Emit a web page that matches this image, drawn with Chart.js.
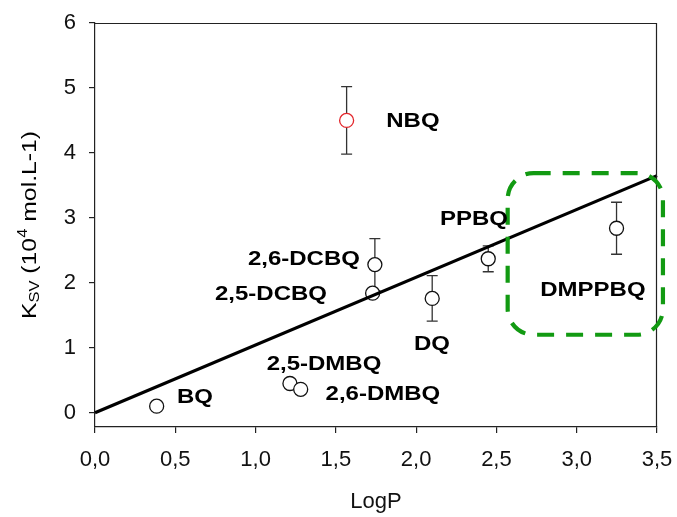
<!DOCTYPE html>
<html><head><meta charset="utf-8">
<script src="https://cdn.jsdelivr.net/npm/chart.js@4.4.1/dist/chart.umd.min.js"></script>
<style>html,body{margin:0;padding:0;background:#fff;}</style>
</head><body>
<canvas id="c" width="677" height="517"></canvas>
<script>
// ---- data ----
const compounds = ['BQ','2,5-DMBQ','2,6-DMBQ','2,5-DCBQ','2,6-DCBQ','NBQ','DQ','PPBQ','DMPPBQ'];
const logP   = [0.384, 1.214, 1.281, 1.729, 1.743, 1.567, 2.10, 2.449, 3.248];
const ksv    = [0.10, 0.45, 0.36, 1.84, 2.28, 4.50, 1.76, 2.37, 2.84];
const ksvErr = [0.05, 0.05, 0.05, 0.05, 0.40, 0.52, 0.35, 0.20, 0.40];
const outlier = [false,false,false,false,false,true,false,false,false];
const fitX = [0.0, 3.5];
const fitY = [0.0, 3.65];
const xTickValues = [0, 0.5, 1, 1.5, 2, 2.5, 3, 3.5];
const xTickLabels = ['0,0','0,5','1,0','1,5','2,0','2,5','3,0','3,5'];
const yTickValues = [0, 1, 2, 3, 4, 5, 6];
const yTickLabels = ['0','1','2','3','4','5','6'];
const xTitle = 'LogP';
const yTitleParts = [['K',''],['SV','sub'],[' (10',''],['4','sup'],[' mol.L-1)','']];
// label anchor positions (data units)
const labelX = [0.623, 1.426, 1.793, 1.096, 1.301, 1.98, 2.098, 2.36, 3.101];
const labelY = [0.23, 0.738, 0.277, 1.815, 2.354, 4.477, 1.046, 2.969, 1.877];
// highlighted region (data units)
const boxX = [2.57, 3.537];
const boxY = [1.2, 3.69];

const FONT = '"Liberation Sans", Arial, Helvetica, sans-serif';

const errorBars = {
  id: 'errorBars',
  beforeDatasetsDraw(chart) {
    const {ctx, scales:{x, y}} = chart;
    ctx.save();
    ctx.strokeStyle = '#333';
    ctx.lineWidth = 1.3;
    for (let i = 0; i < logP.length; i++) {
      const px = x.getPixelForValue(logP[i]);
      const top = y.getPixelForValue(ksv[i] + ksvErr[i]);
      const bot = y.getPixelForValue(ksv[i] - ksvErr[i]);
      ctx.beginPath();
      ctx.moveTo(px, top); ctx.lineTo(px, bot);
      ctx.moveTo(px - 5.5, top); ctx.lineTo(px + 5.5, top);
      ctx.moveTo(px - 5.5, bot); ctx.lineTo(px + 5.5, bot);
      ctx.stroke();
    }
    ctx.restore();
  }
};

const decorations = {
  id: 'decorations',
  afterDatasetsDraw(chart) {
    const {ctx, chartArea:a, scales:{x, y}} = chart;
    ctx.save();
    // top & right frame
    ctx.strokeStyle = '#222'; ctx.lineWidth = 1.2;
    ctx.beginPath();
    ctx.moveTo(a.left, a.top + 0.5); ctx.lineTo(a.right, a.top + 0.5);
    ctx.moveTo(a.right - 0.5, a.top); ctx.lineTo(a.right - 0.5, a.bottom);
    ctx.stroke();
    // green dashed box
    const l = x.getPixelForValue(boxX[0]), r = x.getPixelForValue(boxX[1]);
    const t = y.getPixelForValue(boxY[1]), b = y.getPixelForValue(boxY[0]);
    ctx.strokeStyle = '#129a12'; ctx.lineWidth = 4.2;
    ctx.setLineDash([17, 12]);
    ctx.beginPath();
    ctx.roundRect(l, t, r - l, b - t, 26);
    ctx.stroke();
    ctx.setLineDash([]);
    // compound labels
    ctx.fillStyle = '#000';
    ctx.font = 'bold 20px ' + FONT;
    ctx.textAlign = 'center'; ctx.textBaseline = 'middle';
    for (let i = 0; i < compounds.length; i++) {
      const px = x.getPixelForValue(labelX[i]);
      const py = y.getPixelForValue(labelY[i]);
      ctx.save();
      ctx.translate(px, py);
      ctx.scale(1.2, 1);
      ctx.fillText(compounds[i], 0, 0);
      ctx.restore();
    }
    // y axis title with sub/superscripts
    const big = '21px ' + FONT, small = '14px ' + FONT;
    let W = 0;
    const widths = yTitleParts.map(([s, k]) => { ctx.font = k ? small : big; const w = ctx.measureText(s).width; W += w; return w; });
    const cy = (a.top + a.bottom) / 2;
    ctx.translate(30, cy);
    ctx.rotate(-Math.PI / 2);
    ctx.scale(1.18, 1);
    ctx.textAlign = 'left'; ctx.textBaseline = 'middle';
    let u = -W / 2;
    yTitleParts.forEach(([s, k], i) => {
      ctx.font = k ? small : big;
      const v = k === 'sub' ? 5 : (k === 'sup' ? -7 : 0);
      ctx.fillText(s, u, v);
      u += widths[i];
    });
    ctx.restore();
  }
};

new Chart(document.getElementById('c'), {
  type: 'scatter',
  data: {
    datasets: [
      {
        type: 'line',
        data: fitX.map((v, i) => ({x: v, y: fitY[i]})),
        borderColor: '#000', borderWidth: 3.2,
        pointRadius: 0, fill: false, order: 0, clip: false
      },
      {
        data: logP.map((v, i) => ({x: v, y: ksv[i]})),
        pointRadius: 7, pointHoverRadius: 7,
        pointBackgroundColor: '#fff',
        pointBorderColor: outlier.map(o => o ? '#e3262b' : '#111'),
        pointBorderWidth: 1.3,
        order: 1
      }
    ]
  },
  options: {
    responsive: false,
    animation: false,
    devicePixelRatio: 1,
    layout: {padding: {top: 23, right: 20, left: 0, bottom: 0}},
    plugins: {legend: {display: false}, tooltip: {enabled: false}},
    scales: {
      x: {
        type: 'linear', min: 0, max: 3.5,
        afterBuildTicks: s => { s.ticks = xTickValues.map(v => ({value: v})); },
        afterFit: s => { s.height = 90; s.paddingLeft = 0; s.paddingRight = 0; },
        ticks: {
          callback: (v, i) => xTickLabels[i],
          font: {family: FONT, size: 22}, color: '#111', padding: 14, maxRotation: 0, autoSkip: false
        },
        grid: {drawOnChartArea: false, drawTicks: true, tickLength: 6, color: '#222', lineWidth: 1.2},
        border: {display: true, color: '#222', width: 1.2},
        title: {display: true, text: xTitle, font: {family: FONT, size: 22}, color: '#111', padding: {top: 0, bottom: 2}}
      },
      y: {
        type: 'linear', min: -0.22, max: 6,
        afterBuildTicks: s => { s.ticks = yTickValues.map(v => ({value: v})); },
        afterFit: s => { s.width = 95; s.paddingTop = 0; s.paddingBottom = 0; },
        ticks: {
          callback: (v, i) => yTickLabels[i],
          font: {family: FONT, size: 22}, color: '#111', padding: 13, autoSkip: false
        },
        grid: {drawOnChartArea: false, drawTicks: true, tickLength: 6, color: '#222', lineWidth: 1.2},
        border: {display: true, color: '#222', width: 1.2}
      }
    }
  },
  plugins: [errorBars, decorations]
});
</script>
</body></html>
